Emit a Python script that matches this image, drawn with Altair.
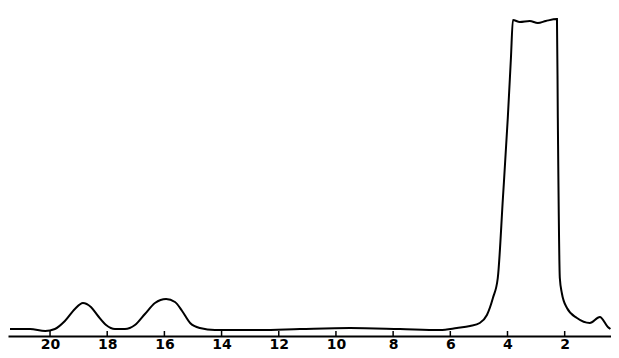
import altair as alt
import pandas as pd

# trace (x in axis units, y in arbitrary units above baseline)
xs = [21.40, 20.70, 20.17, 19.83, 19.48, 19.13, 18.85, 18.57, 18.32, 18.04,
      17.73, 17.38, 17.03, 16.68, 16.33, 15.94, 15.63, 15.38, 15.10, 14.76,
      14.23, 12.66, 11.26, 9.51, 7.76, 6.36, 5.77, 5.31, 4.97, 4.72,
      4.51, 4.34, 4.16, 3.99, 3.88, 3.81, 3.57, 3.22, 2.94, 2.66,
      2.27, 2.24, 2.17, 2.10, 1.92, 1.57, 1.12, 0.77, 0.49, 0.40]
ys = [7, 7, 5, 7, 15, 27, 33, 29, 20, 11,
      7, 7, 11, 22, 33, 37, 34, 25, 13, 8,
      6, 6, 7, 8, 7, 6, 8, 10, 13, 21,
      38, 58, 138, 218, 278, 316, 314, 315, 313, 315,
      317, 218, 58, 43, 28, 18, 13, 19, 9, 7]
tick_values = [20, 18, 16, 14, 12, 10, 8, 6, 4, 2]

df = pd.DataFrame({"x": xs, "y": ys, "order": list(range(len(xs)))})
ticks = pd.DataFrame({"t": tick_values})

xscale = alt.Scale(domain=[21.47, 0.38], nice=False, zero=False)
yscale = alt.Scale(domain=[0, 328], nice=False)

line = alt.Chart(df).mark_line(color="black", strokeWidth=2, interpolate="monotone").encode(
    x=alt.X("x:Q", scale=xscale,
            axis=alt.Axis(values=tick_values, title=None, grid=False, domain=True,
                          domainColor="black", domainWidth=2, ticks=False,
                          labelFont="DejaVu Sans", labelFontSize=14, labelFontWeight="bold",
                          labelColor="black", labelPadding=1, labelFlush=False)),
    y=alt.Y("y:Q", scale=yscale, axis=None),
    order="order:Q",
)

tickmarks = alt.Chart(ticks).mark_rule(color="black", strokeWidth=1.5).encode(
    x=alt.X("t:Q", scale=xscale),
    y=alt.value(328),
    y2=alt.value(323),
)

chart = alt.layer(line, tickmarks).properties(
    width=603, height=328,
    background="white",
    autosize=alt.AutoSizeParams(type="none"),
    padding={"left": 0, "top": 0, "right": 0, "bottom": 14},
).configure_view(strokeWidth=0, stroke="transparent")

chart.save("out.html", embed_options={"renderer": "svg", "actions": False})
